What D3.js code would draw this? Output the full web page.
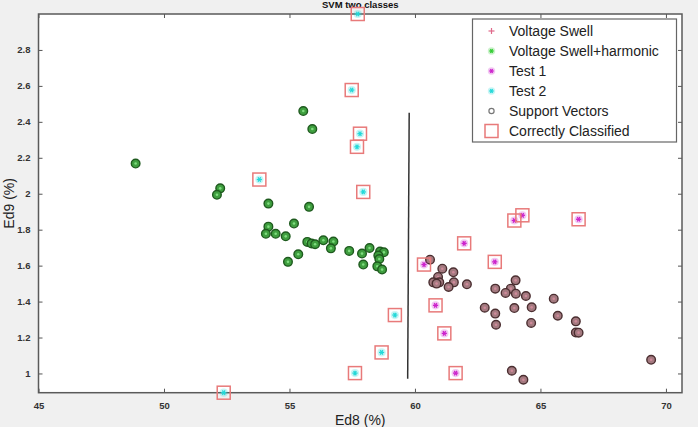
<!DOCTYPE html>
<html>
<head>
<meta charset="utf-8">
<script src="https://cdn.jsdelivr.net/npm/d3@7"></script>
<style>
  body { margin: 0; background: #f0f0f0; }
  svg { display: block; font-family: "Liberation Sans", Arial, sans-serif; }
</style>
</head>
<body>
<div class="svm-chart"></div>
<script>
// ---- data ----
var swellX = [60.60, 61.09, 61.53, 60.92, 60.73, 60.97, 60.86, 61.55, 61.34, 62.07, 64.01, 63.20, 63.82, 63.61, 64.02,
              64.42, 65.53, 62.78, 63.96, 64.65, 63.20, 65.69, 63.23, 64.63, 63.86, 64.32, 66.41, 66.41, 66.52, 69.41];
var swellY = [1.633, 1.583, 1.563, 1.537, 1.507, 1.507, 1.500, 1.507, 1.481, 1.496, 1.518, 1.472, 1.472, 1.448, 1.444,
              1.431, 1.416, 1.366, 1.364, 1.368, 1.333, 1.321, 1.271, 1.281, 1.015, 0.965, 1.290, 1.228, 1.227, 1.076];

var harmX = [48.87, 52.24, 52.11, 54.16, 55.78, 55.55, 55.91, 54.16, 55.18, 54.06, 54.45, 54.85, 55.71, 55.88, 56.02,
             56.35, 56.75, 56.65, 55.35, 54.94, 57.38, 57.89, 58.19, 58.61, 58.76, 58.54, 58.58, 57.94, 58.50, 58.69];
var harmY = [2.168, 2.030, 1.994, 1.945, 1.927, 2.460, 2.360, 1.817, 1.834, 1.777, 1.777, 1.763, 1.732, 1.723, 1.719,
             1.741, 1.734, 1.696, 1.663, 1.621, 1.682, 1.667, 1.698, 1.678, 1.674, 1.656, 1.637, 1.606, 1.596, 1.578];

var test1X = [60.36, 60.82, 61.17, 61.62, 61.96, 63.18, 63.96, 64.28, 66.52];
var test1Y = [1.606, 1.379, 1.223, 1.002, 1.724, 1.621, 1.851, 1.880, 1.858];

var test2X = [53.80, 57.94, 57.72, 57.48, 57.81, 57.69, 59.20, 58.67, 57.61, 52.38];
var test2Y = [2.079, 2.010, 3.000, 2.577, 2.334, 2.261, 1.325, 1.117, 1.002, 0.893];

var boundaryX = [59.77, 59.71];
var boundaryY = [2.45, 0.97];

var xTicks = [45, 50, 55, 60, 65, 70];
var yTicks = [1, 1.2, 1.4, 1.6, 1.8, 2, 2.2, 2.4, 2.6, 2.8];

var legendLabels = ["Voltage Swell", "Voltage Swell+harmonic", "Test 1", "Test 2", "Support Vectors", "Correctly Classified"];

// ---- layout ----
var width = 698;
var height = 427;
var margin = {top: 14, left: 38.5, right: 16, bottom: 34.3};

var svg = d3.select(".svm-chart")
    .append("svg")
    .attr("width", width)
    .attr("height", height);

var xScale = d3.scaleLinear()
    .domain([45, 70.64])
    .range([margin.left, width - margin.right]);

var yScale = d3.scaleLinear()
    .domain([0.893, 3.0])
    .range([height - margin.bottom, margin.top]);

// plot background
svg.append("rect")
    .attr("x", margin.left)
    .attr("y", margin.top)
    .attr("width", xScale.range()[1] - margin.left)
    .attr("height", yScale.range()[0] - margin.top)
    .attr("fill", "white");

function styleAxis(g) {
    g.select(".domain").remove();
    g.selectAll(".tick line").attr("stroke", "#555").attr("stroke-width", 1);
    g.selectAll(".tick text").attr("fill", "#333").attr("font-size", 9.5).attr("font-weight", "bold");
}

// axes, ticks pointing inward like matlab
svg.append("g")
    .attr("transform", `translate(0,${yScale.range()[0]})`)
    .call(d3.axisBottom(xScale).tickValues(xTicks).tickSizeInner(-4).tickSizeOuter(0).tickPadding(10))
    .call(styleAxis);

svg.append("g")
    .attr("transform", `translate(0,${margin.top})`)
    .call(d3.axisTop(xScale).tickValues(xTicks).tickSizeInner(-4).tickSizeOuter(0).tickFormat(""))
    .call(styleAxis);

svg.append("g")
    .attr("transform", `translate(${margin.left},0)`)
    .call(d3.axisLeft(yScale).tickValues(yTicks).tickSizeInner(-4).tickSizeOuter(0).tickPadding(8).tickFormat(d3.format("")))
    .call(styleAxis);

svg.append("g")
    .attr("transform", `translate(${xScale.range()[1]},0)`)
    .call(d3.axisRight(yScale).tickValues(yTicks).tickSizeInner(-4).tickSizeOuter(0).tickFormat(""))
    .call(styleAxis);

// box
svg.append("rect")
    .attr("x", margin.left)
    .attr("y", margin.top)
    .attr("width", xScale.range()[1] - margin.left)
    .attr("height", yScale.range()[0] - margin.top)
    .attr("fill", "none")
    .attr("stroke", "#5a5a5a")
    .attr("stroke-width", 1.5);

// title and labels
svg.append("text")
    .attr("x", (margin.left + xScale.range()[1]) / 2)
    .attr("y", 8)
    .attr("text-anchor", "middle")
    .attr("font-size", 9.5)
    .attr("font-weight", "bold")
    .attr("fill", "#111")
    .text("SVM two classes");

svg.append("text")
    .attr("x", (margin.left + xScale.range()[1]) / 2)
    .attr("y", 425)
    .attr("text-anchor", "middle")
    .attr("font-size", 14)
    .attr("fill", "#222")
    .text("Ed8 (%)");

svg.append("text")
    .attr("transform", `translate(14,${(margin.top + yScale.range()[0]) / 2}) rotate(-90)`)
    .attr("text-anchor", "middle")
    .attr("font-size", 14)
    .attr("fill", "#222")
    .text("Ed9 (%)");

// separating line
svg.append("line")
    .attr("x1", xScale(boundaryX[0]))
    .attr("y1", yScale(boundaryY[0]))
    .attr("x2", xScale(boundaryX[1]))
    .attr("y2", yScale(boundaryY[1]))
    .attr("stroke", "#333")
    .attr("stroke-width", 1.5);

function asterisk(g, cx, cy, r, color) {
    g.append("circle").attr("cx", cx).attr("cy", cy).attr("r", r + 1.5).attr("fill", color).attr("opacity", 0.25);
    [0, 60, 120].forEach(function(a) {
        var rad = a * Math.PI / 180;
        g.append("line")
            .attr("x1", cx - r * Math.cos(rad)).attr("y1", cy - r * Math.sin(rad))
            .attr("x2", cx + r * Math.cos(rad)).attr("y2", cy + r * Math.sin(rad))
            .attr("stroke", color).attr("stroke-width", 1.3);
    });
}

// support vectors
var svLayer = svg.append("g");
harmX.forEach(function(x, i) {
    svLayer.append("circle")
        .attr("cx", xScale(x)).attr("cy", yScale(harmY[i])).attr("r", 4.3)
        .attr("fill", "#3f9f3f").attr("stroke", "#1e5a1e").attr("stroke-width", 1.4);
    svLayer.append("circle")
        .attr("cx", xScale(x)).attr("cy", yScale(harmY[i])).attr("r", 1.3)
        .attr("fill", "#7fdc7f");
});
swellX.forEach(function(x, i) {
    svLayer.append("circle")
        .attr("cx", xScale(x)).attr("cy", yScale(swellY[i])).attr("r", 4.3)
        .attr("fill", "#a47a80").attr("stroke", "#4a2e30").attr("stroke-width", 1.4);
    svLayer.append("circle")
        .attr("cx", xScale(x)).attr("cy", yScale(swellY[i])).attr("r", 1.3)
        .attr("fill", "#d08a9a");
});

// test points
var testLayer = svg.append("g");
test1X.forEach(function(x, i) {
    asterisk(testLayer, xScale(x), yScale(test1Y[i]), 2.6, "#cc22cc");
});
test2X.forEach(function(x, i) {
    asterisk(testLayer, xScale(x), yScale(test2Y[i]), 2.6, "#22d8d8");
});

// correctly classified squares
var sqLayer = svg.append("g");
test1X.concat(test2X).forEach(function(x, i) {
    var y = test1Y.concat(test2Y)[i];
    sqLayer.append("rect")
        .attr("x", xScale(x) - 6.5).attr("y", yScale(y) - 6.5)
        .attr("width", 13).attr("height", 13)
        .attr("fill", "none").attr("stroke", "#e87a7a").attr("stroke-width", 1.5);
});

// legend
var legend = svg.append("g");
legend.append("rect")
    .attr("x", 472.5).attr("y", 19)
    .attr("width", 204).attr("height", 123)
    .attr("fill", "white").attr("stroke", "#666").attr("stroke-width", 1.2);

legendLabels.forEach(function(label, i) {
    var ly = 31 + i * 20;
    var mx = 491.5;
    if (i === 0) {
        legend.append("line").attr("x1", mx - 3).attr("x2", mx + 3).attr("y1", ly).attr("y2", ly).attr("stroke", "#e06a8a").attr("stroke-width", 1.2);
        legend.append("line").attr("x1", mx).attr("x2", mx).attr("y1", ly - 3).attr("y2", ly + 3).attr("stroke", "#e06a8a").attr("stroke-width", 1.2);
    } else if (i === 1) {
        asterisk(legend, mx, ly, 2.2, "#33cc33");
    } else if (i === 2) {
        asterisk(legend, mx, ly, 2.2, "#cc22cc");
    } else if (i === 3) {
        asterisk(legend, mx, ly, 2.2, "#22d8d8");
    } else if (i === 4) {
        legend.append("circle").attr("cx", mx).attr("cy", ly).attr("r", 2.6)
            .attr("fill", "none").attr("stroke", "#777").attr("stroke-width", 1.2);
    } else {
        legend.append("rect").attr("x", mx - 6.5).attr("y", ly - 6.5).attr("width", 13).attr("height", 13)
            .attr("fill", "none").attr("stroke", "#e87a7a").attr("stroke-width", 1.5);
    }
    legend.append("text")
        .attr("x", 509)
        .attr("y", ly + 5)
        .attr("font-size", 14)
        .attr("fill", "#222")
        .text(label);
});
</script>
</body>
</html>
